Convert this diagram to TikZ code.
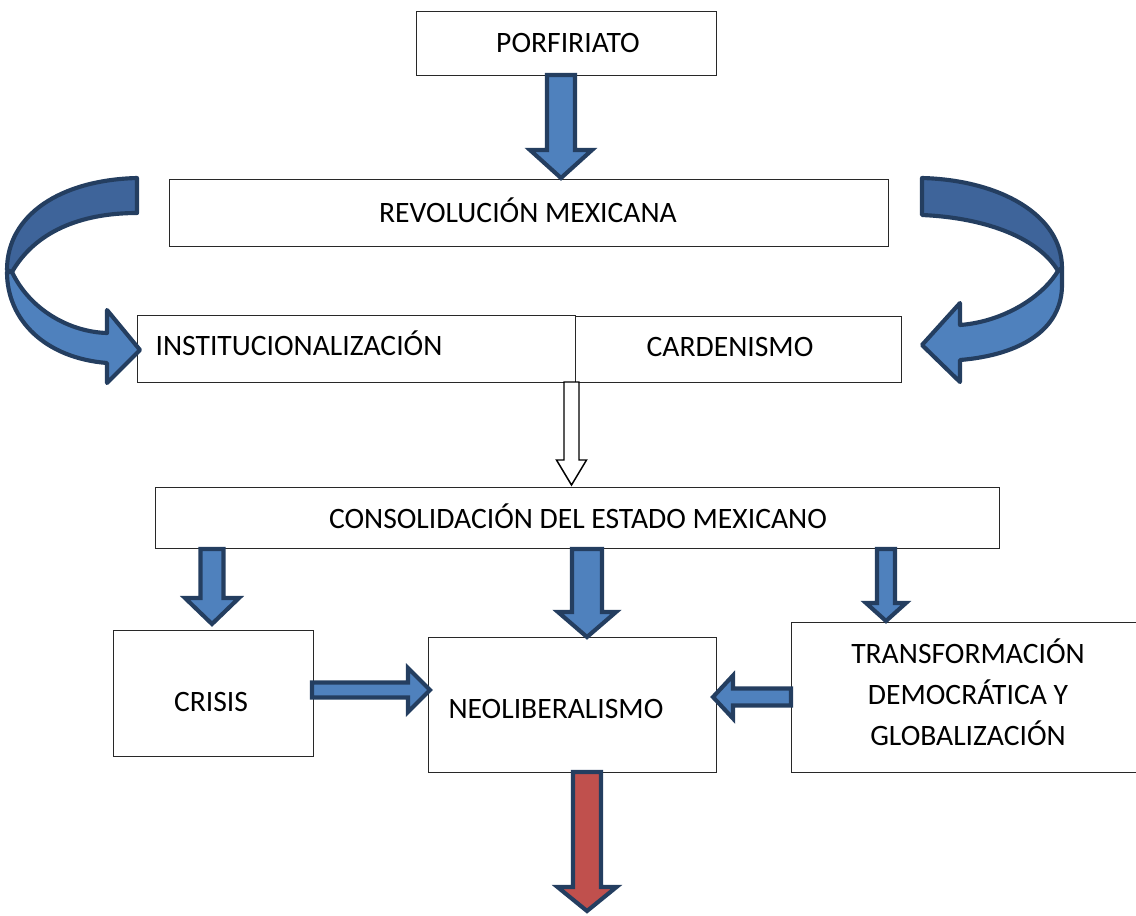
\documentclass[tikz,border=0pt]{standalone}
\usepackage{fontspec}
\setmainfont{Carlito}
\definecolor{bfill}{RGB}{79,129,189}
\definecolor{bdark}{RGB}{62,100,154}
\definecolor{bline}{RGB}{36,62,96}
\definecolor{rfill}{RGB}{192,80,77}
\definecolor{boxline}{RGB}{40,40,40}
\newcommand{\dnarr}[7]{\draw[#7] (#1-#3,#2) -- (#1+#3,#2) -- (#1+#3,#5) -- (#1+#4,#5) -- (#1,#6) -- (#1-#4,#5) -- (#1-#3,#5) -- cycle;}
\newcommand{\rtarr}[7]{\draw[#7] (#2,#1-#3) -- (#2,#1+#3) -- (#5,#1+#3) -- (#5,#1+#4) -- (#6,#1) -- (#5,#1-#4) -- (#5,#1-#3) -- cycle;}
\begin{document}
\begin{tikzpicture}[x=0.75pt,y=-0.75pt,
  box/.style={draw=boxline,line width=1.1pt,fill=white,anchor=north west,inner sep=0pt},
  txt/.style={font=\fontsize{22.2}{30.75}\selectfont,align=center,inner sep=0pt},
  barrow/.style={draw=bline,fill=bfill,line width=3.1pt,line join=miter},
  bdarkband/.style={draw=bline,fill=bdark,line width=3.1pt,line join=round},
  rarrow/.style={draw=bline,fill=rfill,line width=3.1pt,line join=miter},
  harrow/.style={draw=black,fill=white,line width=1.1pt,line join=miter}]
\useasboundingbox (0,0) rectangle (1136,915);
% boxes
\node[box,minimum width=225pt,minimum height=48pt] (porf) at (416,11) {};
\node[box,minimum width=539.25pt,minimum height=50.25pt] (rev) at (169,179) {};
\node[box,minimum width=328.5pt,minimum height=50.25pt] (inst) at (137,315) {};
\node[box,minimum width=244.5pt,minimum height=49.5pt] (card) at (575,316) {};
\node[box,minimum width=633pt,minimum height=45.75pt] (cons) at (155,487) {};
\node[box,minimum width=150pt,minimum height=94.5pt] (cris) at (113,630) {};
\node[box,minimum width=216pt,minimum height=101.25pt] (neo) at (428,637) {};
\node[box,minimum width=270pt,minimum height=112.5pt] (trans) at (791,622) {};
% texts
\node[txt] (tporf) at (568,43) {PORFIRIATO};
\node[txt] (trev) at (528,210) {REVOLUCIÓN MEXICANA};
\node[txt] (tinst) at (299,343) {INSTITUCIONALIZACIÓN};
\node[txt] (tcard) at (730,347) {CARDENISMO};
\node[txt] (tcons) at (578,516) {CONSOLIDACIÓN DEL ESTADO MEXICANO};
\node[txt] (tcris) at (211,702) {CRISIS};
\node[txt] (tneo) at (556,709) {NEOLIBERALISMO};
\node[txt] (ttrans) at (968,692) {TRANSFORMACIÓN\\DEMOCRÁTICA Y\\GLOBALIZACIÓN};
% straight block arrows
\dnarr{561}{75}{14}{31}{150}{178}{barrow}
\dnarr{571.5}{382}{7.5}{15}{460}{485}{harrow}
\dnarr{212}{549}{11.5}{27}{598}{624}{barrow}
\dnarr{587}{549}{15}{29}{612}{637}{barrow}
\dnarr{886}{549}{9}{20}{603}{621}{barrow}
\dnarr{587}{772}{14}{29.5}{887}{911}{rarrow}
\rtarr{690}{312}{7.5}{22}{408}{430}{barrow}
\rtarr{697}{791}{8.5}{21.5}{733}{713}{barrow}
% left curved arrow
\draw[bdarkband] (137,178) .. controls (60,180) and (7,215) .. (7,270) -- (12,272)
  .. controls (35,232) and (80,213) .. (137,213) -- cycle;
\draw[barrow,line join=round] (12,272) .. controls (30,310) and (70,332) .. (107,333) -- (107,310) -- (140,350)
  -- (107,383) -- (107,363) .. controls (45,358) and (7,320) .. (7,272) -- cycle;
% right curved arrow
\draw[bdarkband] (922,178) -- (922,215) .. controls (990,218) and (1040,240) .. (1058,271)
  -- (1062,268) .. controls (1062,215) and (1000,180) .. (922,178) -- cycle;
\draw[barrow,line join=round] (1058,271) .. controls (1040,300) and (1000,322) .. (960,325) -- (960,303) -- (922,345)
  -- (960,382) -- (960,360) .. controls (1020,355) and (1062,330) .. (1062,285) -- (1062,268) -- cycle;
\end{tikzpicture}
\end{document}
